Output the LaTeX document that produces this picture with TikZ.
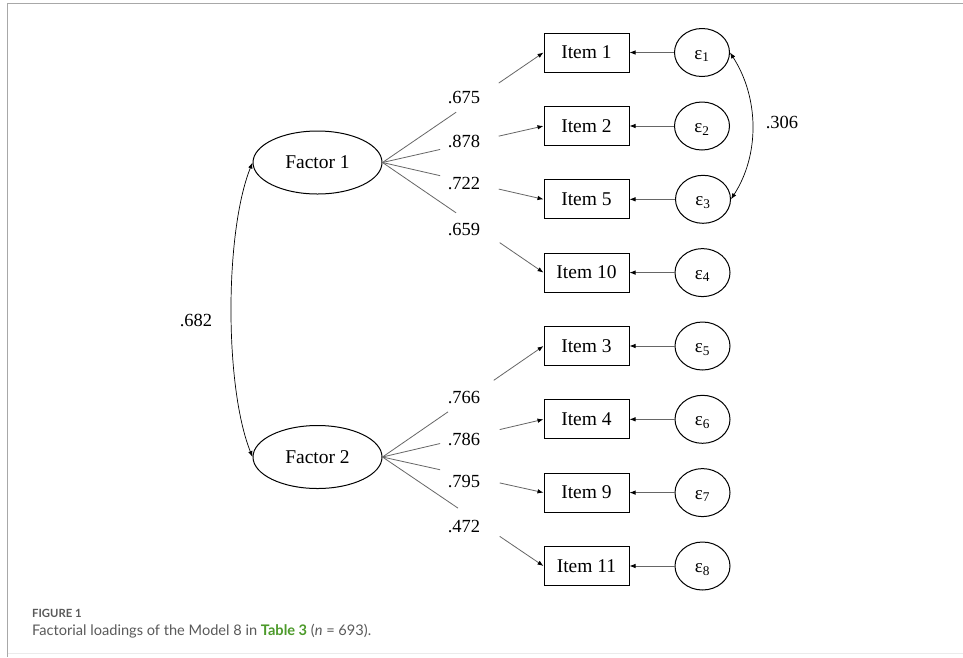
\documentclass[tikz,border=0pt]{standalone}
\usepackage{fontspec}
\setmainfont{Liberation Serif}
\newfontfamily\capfont{Lato}
\usetikzlibrary{arrows.meta,calc,shapes.geometric}
\definecolor{capgray}{HTML}{5A5A5A}
\definecolor{capgreen}{HTML}{4C9A2A}
\definecolor{framegray}{HTML}{A8A8A8}
\begin{document}
\begin{tikzpicture}[x=1pt,y=-1pt,
  lat/.style={ellipse, draw, line width=1.0pt, minimum width=129pt, minimum height=63pt, inner sep=0pt, font=\fontsize{19.5}{20}\selectfont},
  ind/.style={rectangle, draw, line width=1.0pt, minimum width=85pt, minimum height=39pt, inner sep=0pt, font=\fontsize{19.5}{20}\selectfont},
  err/.style={ellipse, draw, line width=1.0pt, minimum width=55pt, minimum height=48pt, inner sep=0pt, text height=13pt, text depth=0pt, font=\fontsize{19}{20}\selectfont},
  lbl/.style={inner sep=0pt, font=\fontsize{18.5}{20}\selectfont},
  ld/.style={draw=black!60, line width=0.8pt},
  ldarr/.style={ld, -{Latex[length=6pt,width=4.5pt,black]}},
  cov/.style={draw=black, line width=0.7pt, {Latex[length=6pt,width=4.5pt]}-{Latex[length=6pt,width=4.5pt]}}
]
\useasboundingbox (0,0) rectangle (963,657);
\fill[white] (0,0) rectangle (963,657);
% frame
\draw[framegray, line width=1pt] (963,3.5) -- (7.5,3.5) -- (7.5,657);
\draw[black!8, line width=0.8pt] (7.5,653) -- (963,653);

% latent factors
\node[lat] (F1) at (317.5,162.5) {Factor 1};
\node[lat] (F2) at (317.5,457) {Factor 2};

% items
\node[ind] (I1)  at (586.5,52.5)  {Item 1};
\node[ind] (I2)  at (586.5,126)   {Item 2};
\node[ind] (I5)  at (586.5,199.3) {Item 5};
\node[ind] (I10) at (586.5,272.6) {Item 10};
\node[ind] (I3)  at (586.5,346)   {Item 3};
\node[ind] (I4)  at (586.5,419.3) {Item 4};
\node[ind] (I9)  at (586.5,492.6) {Item 9};
\node[ind] (I11) at (586.5,566)   {Item 11};

% errors
\node[err] (E1) at (702,52.5)  {ε\textsubscript{1}};
\node[err] (E2) at (702,126)   {ε\textsubscript{2}};
\node[err] (E3) at (703,199.3) {ε\textsubscript{3}};
\node[err] (E4) at (702.5,272.6) {ε\textsubscript{4}};
\node[err] (E5) at (702.5,346)   {ε\textsubscript{5}};
\node[err] (E6) at (702.5,419.3) {ε\textsubscript{6}};
\node[err] (E7) at (702.5,492.6) {ε\textsubscript{7}};
\node[err] (E8) at (702.5,566)   {ε\textsubscript{8}};

% error arrows
\foreach \e/\i in {E1/I1,E2/I2,E3/I5,E4/I10,E5/I3,E6/I4,E7/I9,E8/I11}
  \draw[ldarr] (\e.west) -- (\i.east);

% loading lines (broken around labels)
\foreach \f/\i/\a/\b in {F1/I1/0.457/0.722, F1/I2/0.358/0.722, F1/I5/0.358/0.722, F1/I10/0.457/0.728,
                         F2/I3/0.407/0.691, F2/I4/0.358/0.728, F2/I9/0.358/0.728, F2/I11/0.469/0.728}{
  \coordinate (\f\i a) at ($(\f.east)!\a!(\i.west)$);
  \coordinate (\f\i b) at ($(\f.east)!\b!(\i.west)$);
  \draw[ld] (\f.east) -- (\f\i a);
  \draw[ldarr] (\f\i b) -- (\i.west);
}

% loading labels
\node[lbl] (L1)  at (464,97)    {.675};
\node[lbl] (L2)  at (464,141)   {.878};
\node[lbl] (L5)  at (464,183)   {.722};
\node[lbl] (L10) at (464,229.5) {.659};
\node[lbl] (L3)  at (464,397)   {.766};
\node[lbl] (L4)  at (464,439)   {.786};
\node[lbl] (L9)  at (464,481)   {.795};
\node[lbl] (L11) at (464,526)   {.472};

% covariances
\draw[cov] (F1.west) .. controls +(-28,70) and +(-28,-70) .. (F2.west);
\node[lbl] (C12) at (196,320) {.682};
\draw[cov] (E1.east) .. controls +(29,45) and +(29,-45) .. (E3.east);
\node[lbl] (C13) at (782,122.5) {.306};

% caption
\node[anchor=base west, inner sep=0pt, text=capgray, font=\capfont\bfseries\fontsize{11.3}{12}\selectfont] (cap1) at (32,617) {FIGURE 1};
\node[anchor=base west, inner sep=0pt, text=capgray, font=\capfont\fontsize{14.6}{16}\selectfont] (cap2) at (32,635)
  {Factorial loadings of the Model 8 in {\color{capgreen}\bfseries Table 3} (\textit{n} = 693).};
\end{tikzpicture}
\end{document}
